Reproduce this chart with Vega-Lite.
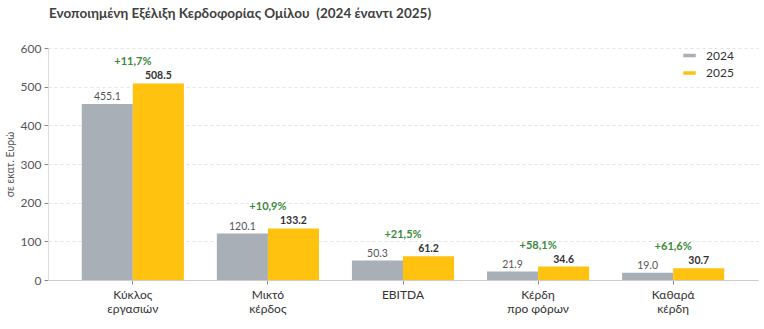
{
  "$schema": "https://vega.github.io/schema/vega-lite/v6.json",
  "autosize": {"type": "none"},
  "width": 710,
  "height": 232,
  "padding": {"left": 48, "top": 48, "right": 6, "bottom": 49},
  "background": "white",
  "config": {
    "font": "Lato",
    "view": {"stroke": null},
    "axis": {"labelFont": "Lato", "titleFont": "Lato"}
  },
  "title": {
    "text": "Ενοποιημένη Εξέλιξη Κερδοφορίας Ομίλου \u00a0(2024 έναντι 2025)",
    "anchor": "start",
    "frame": "group",
    "font": "Lato",
    "fontSize": 13.5,
    "fontWeight": "bold",
    "color": "#404040",
    "offset": 22,
    "dx": 1
  },
  "datasets": {
    "vals": [
      {"category": "Κύκλος|εργασιών", "year": "2024", "value": 455.1},
      {"category": "Κύκλος|εργασιών", "year": "2025", "value": 508.5},
      {"category": "Μικτό|κέρδος", "year": "2024", "value": 120.1},
      {"category": "Μικτό|κέρδος", "year": "2025", "value": 133.2},
      {"category": "EBITDA", "year": "2024", "value": 50.3},
      {"category": "EBITDA", "year": "2025", "value": 61.2},
      {"category": "Κέρδη|προ φόρων", "year": "2024", "value": 21.9},
      {"category": "Κέρδη|προ φόρων", "year": "2025", "value": 34.6},
      {"category": "Καθαρά|κέρδη", "year": "2024", "value": 19.0},
      {"category": "Καθαρά|κέρδη", "year": "2025", "value": 30.7}
    ],
    "growth": [
      {"category": "Κύκλος|εργασιών", "pct": "+11,7%", "value": 508.5},
      {"category": "Μικτό|κέρδος", "pct": "+10,9%", "value": 133.2},
      {"category": "EBITDA", "pct": "+21,5%", "value": 61.2},
      {"category": "Κέρδη|προ φόρων", "pct": "+58,1%", "value": 34.6},
      {"category": "Καθαρά|κέρδη", "pct": "+61,6%", "value": 30.7}
    ]
  },
  "encoding": {
    "x": {
      "field": "category",
      "type": "nominal",
      "sort": null,
      "scale": {"paddingInner": 0.244, "paddingOuter": 0.25},
      "axis": {
        "title": null,
        "labelAngle": 0,
        "labelExpr": "split(datum.label, '|')",
        "labelFontSize": 12,
        "labelColor": "#333333",
        "labelPadding": 5,
        "labelLineHeight": 14,
        "tickSize": 4,
        "tickColor": "#888888",
        "domainColor": "#cccccc",
        "grid": false
      }
    },
    "y": {
      "field": "value",
      "type": "quantitative",
      "scale": {"domain": [0, 600]},
      "axis": {
        "title": "σε εκατ. Ευρώ",
        "titleFontSize": 10.5,
        "titleFontWeight": "normal",
        "titleColor": "#555555",
        "titlePadding": 5,
        "values": [0, 100, 200, 300, 400, 500, 600],
        "labelOverlap": false,
        "labelFontSize": 12,
        "labelColor": "#555555",
        "labelPadding": 3,
        "tickSize": 4,
        "tickColor": "#888888",
        "domain": true,
        "domainColor": "#dddddd",
        "gridColor": "#e3e3e3",
        "gridDash": [3, 3]
      }
    }
  },
  "layer": [
    {
      "data": {"name": "vals"},
      "mark": {"type": "bar"},
      "encoding": {
        "xOffset": {"field": "year", "type": "nominal", "scale": {"paddingInner": 0, "paddingOuter": 0}},
        "color": {
          "field": "year",
          "type": "nominal",
          "scale": {"domain": ["2024", "2025"], "range": ["#A8AFB6", "#FFC20E"]},
          "legend": {
            "title": null,
            "orient": "none",
            "legendX": 635,
            "legendY": 1,
            "symbolType": "M-1,-0.28L1,-0.28L1,0.28L-1,0.28Z",
            "symbolSize": 156,
            "symbolStrokeWidth": 0,
            "labelFontSize": 12,
            "labelColor": "#333333",
            "labelOffset": 10,
            "rowPadding": 4.5
          }
        }
      }
    },
    {
      "data": {"name": "vals"},
      "transform": [{"filter": "datum.year == '2024'"}],
      "mark": {"type": "text", "fontSize": 10.5, "color": "#555555", "dy": -7, "baseline": "middle"},
      "encoding": {
        "xOffset": {"field": "year", "type": "nominal", "scale": {"domain": ["2024", "2025"]}},
        "text": {"field": "value", "type": "quantitative", "format": ".1f"}
      }
    },
    {
      "data": {"name": "vals"},
      "transform": [{"filter": "datum.year == '2025'"}],
      "mark": {"type": "text", "fontSize": 10.5, "fontWeight": "bold", "color": "#333333", "dy": -7, "baseline": "middle"},
      "encoding": {
        "xOffset": {"field": "year", "type": "nominal", "scale": {"domain": ["2024", "2025"]}},
        "text": {"field": "value", "type": "quantitative", "format": ".1f"}
      }
    },
    {
      "data": {"name": "growth"},
      "mark": {"type": "text", "fontSize": 11, "fontWeight": "bold", "color": "#3B8A3B", "dy": -21, "baseline": "middle"},
      "encoding": {
        "text": {"field": "pct", "type": "nominal"}
      }
    }
  ]
}
